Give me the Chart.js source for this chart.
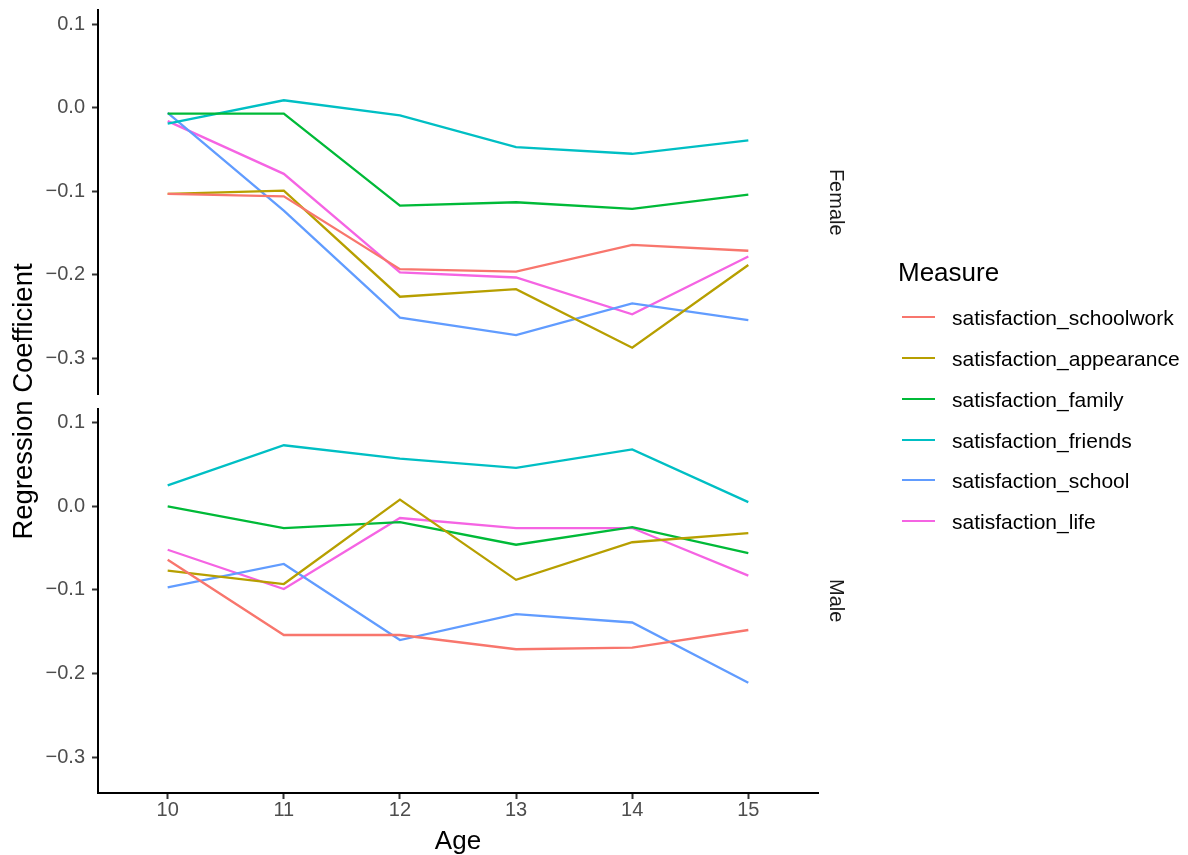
<!DOCTYPE html>
<html>
<head>
<meta charset="utf-8">
<title>Regression Coefficient by Age</title>
<script src="https://cdn.jsdelivr.net/npm/chart.js@4.4.1/dist/chart.umd.min.js"></script>
<style>
  body { margin: 0; background: #ffffff; }
  #wrap { position: relative; width: 1188px; height: 855px; font-family: "Liberation Sans", Arial, Helvetica, sans-serif; }
  #myChart { position: absolute; left: 0; top: 0; }
  #legend { position: absolute; left: 898px; top: 0; color: #000; }
  #legend .ttl { position: absolute; left: 0; top: 259px; font-size: 26px; line-height: 26px; white-space: nowrap; }
  #legend .key { position: absolute; left: 4px; width: 33px; height: 2px; }
  #legend .lbl { position: absolute; left: 54px; height: 40px; line-height: 40px; font-size: 21px; white-space: nowrap; }
</style>
</head>
<body>
<div id="wrap">
  <canvas id="myChart" width="1188" height="855"></canvas>
  <div id="legend"></div>
</div>
<script>
var ages = [10, 11, 12, 13, 14, 15];
var measures = ['satisfaction_schoolwork', 'satisfaction_appearance', 'satisfaction_family',
                'satisfaction_friends', 'satisfaction_school', 'satisfaction_life'];
var colors = ['#F8766D', '#B79F00', '#00BA38', '#00BFC4', '#619CFF', '#F564E3'];
var panels = ['Female', 'Male'];

// Female panel
var femaleSchoolwork = [-0.103, -0.106, -0.193, -0.196, -0.164, -0.171];
var femaleAppearance = [-0.103, -0.099, -0.226, -0.217, -0.287, -0.188];
var femaleFamily     = [-0.007, -0.007, -0.117, -0.113, -0.121, -0.104];
var femaleFriends    = [-0.019,  0.009, -0.009, -0.047, -0.055, -0.039];
var femaleSchool     = [-0.006, -0.123, -0.251, -0.272, -0.234, -0.254];
var femaleLife       = [-0.016, -0.079, -0.197, -0.203, -0.247, -0.178];

// Male panel
var maleSchoolwork = [-0.064, -0.154, -0.154, -0.171, -0.169, -0.148];
var maleAppearance = [-0.077, -0.093,  0.008, -0.088, -0.043, -0.032];
var maleFamily     = [ 0.000, -0.026, -0.019, -0.046, -0.025, -0.056];
var maleFriends    = [ 0.025,  0.073,  0.057,  0.046,  0.068,  0.005];
var maleSchool     = [-0.097, -0.069, -0.160, -0.129, -0.139, -0.211];
var maleLife       = [-0.052, -0.099, -0.014, -0.026, -0.026, -0.083];

var femaleSeries = [femaleSchoolwork, femaleAppearance, femaleFamily, femaleFriends, femaleSchool, femaleLife];
var maleSeries = [maleSchoolwork, maleAppearance, maleFamily, maleFriends, maleSchool, maleLife];

var yMin = -0.343, yMax = 0.117;
var fontFamily = '"Liberation Sans", Arial, Helvetica, sans-serif';

function points(values) {
    var pts = [];
    for (var i = 0; i < ages.length; i++) {
        pts.push({ x: ages[i], y: values[i] });
    }
    return pts;
}

var datasets = [];
for (var i = 0; i < measures.length; i++) {
    datasets.push({ label: measures[i], data: points(femaleSeries[i]), borderColor: colors[i], backgroundColor: colors[i], yAxisID: 'yF' });
}
for (var i = 0; i < measures.length; i++) {
    datasets.push({ label: measures[i], data: points(maleSeries[i]), borderColor: colors[i], backgroundColor: colors[i], yAxisID: 'yM' });
}

function fmt(v) {
    if (Math.abs(v) < 1e-9) v = 0;
    return v.toFixed(1).replace('-', '\u2212');
}

function fixWidth(w) {
    return function (s) {
        s.width = w;
        s.paddingTop = 0;
        s.paddingBottom = 0;
    };
}

// y axis of one panel
function panelAxis(weight) {
    return {
        type: 'linear',
        position: 'left',
        stack: 'left',
        stackWeight: weight,
        min: yMin,
        max: yMax,
        ticks: {
            stepSize: 0.1,
            includeBounds: false,
            padding: 7,
            color: '#4D4D4D',
            font: { family: fontFamily, size: 20 },
            callback: fmt
        },
        grid: { display: true, drawOnChartArea: false, drawTicks: true, tickLength: 6, tickWidth: 2, tickColor: '#333333' },
        border: { display: true, color: '#000000', width: 2 },
        afterFit: fixWidth(58)
    };
}

// empty axis, used as spacer or as strip / title holder
function blankAxis(pos, stack, weight, title, w) {
    var ax = {
        type: 'linear',
        position: pos,
        ticks: { display: false },
        grid: { display: false },
        border: { display: false },
        afterFit: fixWidth(w)
    };
    if (stack) {
        ax.stack = stack;
        ax.stackWeight = weight;
    }
    if (title) {
        ax.title = title;
    }
    return ax;
}

var stripTitle = function (text) {
    return { display: true, text: text, color: '#1A1A1A', font: { family: fontFamily, size: 20, lineHeight: 1 }, padding: { top: 2, bottom: 0 } };
};

var yTitle = blankAxis('left', null, 0, {
    display: true, text: 'Regression Coefficient', color: '#000000',
    font: { family: fontFamily, size: 27.5, lineHeight: 1 }, padding: { top: 11, bottom: 0 }
}, 40);
yTitle.weight = 1;

var ctx = document.getElementById('myChart').getContext('2d');
var myChart = new Chart(ctx, {
    type: 'line',
    data: { datasets: datasets },
    options: {
        responsive: false,
        animation: false,
        devicePixelRatio: 1,
        layout: { padding: { top: 10, right: 340, bottom: 0, left: 0 } },
        elements: {
            line: { borderWidth: 2.3, tension: 0 },
            point: { radius: 0, hoverRadius: 0 }
        },
        plugins: {
            legend: { display: false },
            tooltip: { enabled: false }
        },
        scales: {
            x: {
                type: 'linear',
                position: 'bottom',
                min: 9.4,
                max: 15.6,
                ticks: {
                    stepSize: 1,
                    includeBounds: false,
                    padding: 1,
                    color: '#4D4D4D',
                    font: { family: fontFamily, size: 20, lineHeight: 1 }
                },
                grid: { display: true, drawOnChartArea: false, drawTicks: true, tickLength: 6, tickWidth: 2, tickColor: '#333333' },
                border: { display: true, color: '#000000', width: 2 },
                title: { display: true, text: 'Age', color: '#000000', font: { family: fontFamily, size: 26, lineHeight: 1 }, padding: { top: 0, bottom: 0 } },
                afterFit: function (s) { s.height = 62; s.paddingLeft = 0; s.paddingRight = 0; }
            },
            yTitle: yTitle,
            yM: panelAxis(384.5),
            yGap: blankAxis('left', 'left', 14, null, 58),
            yF: panelAxis(384.5),
            sF: blankAxis('right', 'right', 384.5, stripTitle(panels[0]), 30),
            sGap: blankAxis('right', 'right', 14, null, 30),
            sM: blankAxis('right', 'right', 384.5, stripTitle(panels[1]), 30)
        }
    }
});

// legend
var legend = document.getElementById('legend');
var html = '<div class="ttl">Measure</div>';
for (var i = 0; i < measures.length; i++) {
    var mid = Math.round(317 + 40.85 * i);
    html += '<span class="key" style="top:' + (mid - 1) + 'px;background:' + colors[i] + '"></span>' +
            '<span class="lbl" style="top:' + (mid - 19) + 'px">' + measures[i] + '</span>';
}
legend.innerHTML = html;
</script>
</body>
</html>
